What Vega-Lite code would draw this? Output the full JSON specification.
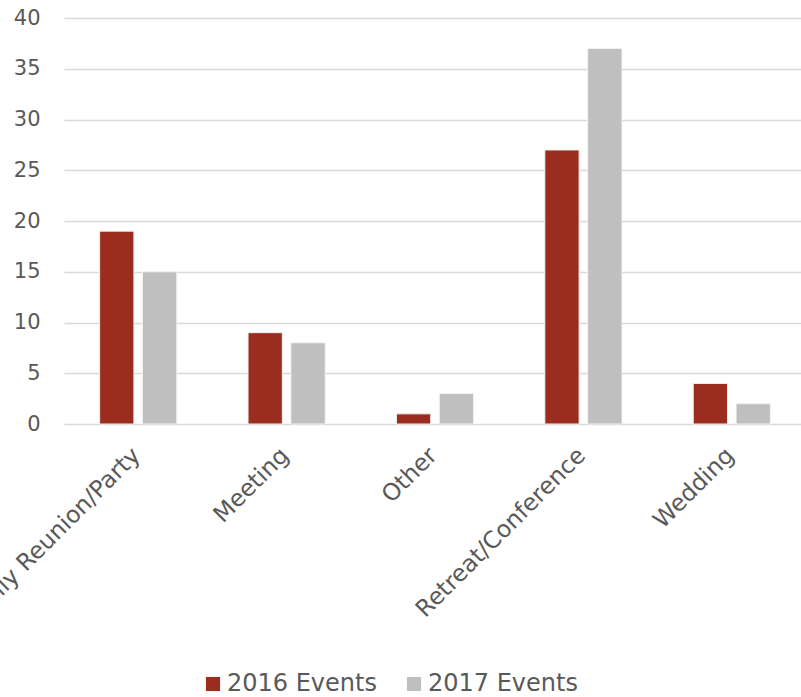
{
  "$schema": "https://vega.github.io/schema/vega-lite/v6.json",
  "width": 742,
  "height": 406,
  "autosize": {"type": "none"},
  "padding": {"left": 64, "top": 18, "right": 0, "bottom": 273},
  "background": "white",
  "config": {
    "view": {"stroke": null},
    "font": "DejaVu Sans",
    "axis": {"labelColor": "#595959", "labelFont": "DejaVu Sans"},
    "legend": {"labelColor": "#595959", "labelFont": "DejaVu Sans"}
  },
  "data": {
    "values": [
      {"category": "Family Reunion/Party", "series": "2016 Events", "value": 19},
      {"category": "Family Reunion/Party", "series": "2017 Events", "value": 15},
      {"category": "Meeting", "series": "2016 Events", "value": 9},
      {"category": "Meeting", "series": "2017 Events", "value": 8},
      {"category": "Other", "series": "2016 Events", "value": 1},
      {"category": "Other", "series": "2017 Events", "value": 3},
      {"category": "Retreat/Conference", "series": "2016 Events", "value": 27},
      {"category": "Retreat/Conference", "series": "2017 Events", "value": 37},
      {"category": "Wedding", "series": "2016 Events", "value": 4},
      {"category": "Wedding", "series": "2017 Events", "value": 2}
    ]
  },
  "mark": {"type": "bar", "stroke": "#f2f2f2", "strokeWidth": 1},
  "encoding": {
    "x": {
      "field": "category",
      "type": "nominal",
      "sort": null,
      "scale": {"paddingInner": 0.48, "paddingOuter": 0.24},
      "axis": {
        "title": null,
        "labelAngle": -45,
        "labelAlign": "right",
        "labelBaseline": "top",
        "labelFontSize": 23.5,
        "labelPadding": 19,
        "labelOffset": -10,
        "ticks": false,
        "domain": false,
        "labelOverlap": false,
        "labelLimit": 0
      }
    },
    "xOffset": {
      "field": "series",
      "type": "nominal",
      "scale": {"paddingInner": 0.2, "paddingOuter": 0}
    },
    "y": {
      "field": "value",
      "type": "quantitative",
      "scale": {"domain": [0, 40], "nice": false},
      "axis": {
        "title": null,
        "values": [0, 5, 10, 15, 20, 25, 30, 35, 40],
        "labelFontSize": 21,
        "labelPadding": 24,
        "ticks": false,
        "domain": false,
        "gridColor": "#d9d9d9",
        "gridWidth": 1.5
      }
    },
    "color": {
      "field": "series",
      "type": "nominal",
      "scale": {"domain": ["2016 Events", "2017 Events"], "range": ["#9b2d1f", "#bfbfbf"]},
      "legend": {
        "title": null,
        "orient": "none",
        "direction": "horizontal",
        "legendX": 137,
        "legendY": 654,
        "symbolType": "square",
        "symbolSize": 200,
        "symbolStrokeWidth": 0,
        "labelFontSize": 24,
        "labelOffset": 2,
        "columnPadding": 25
      }
    }
  }
}
